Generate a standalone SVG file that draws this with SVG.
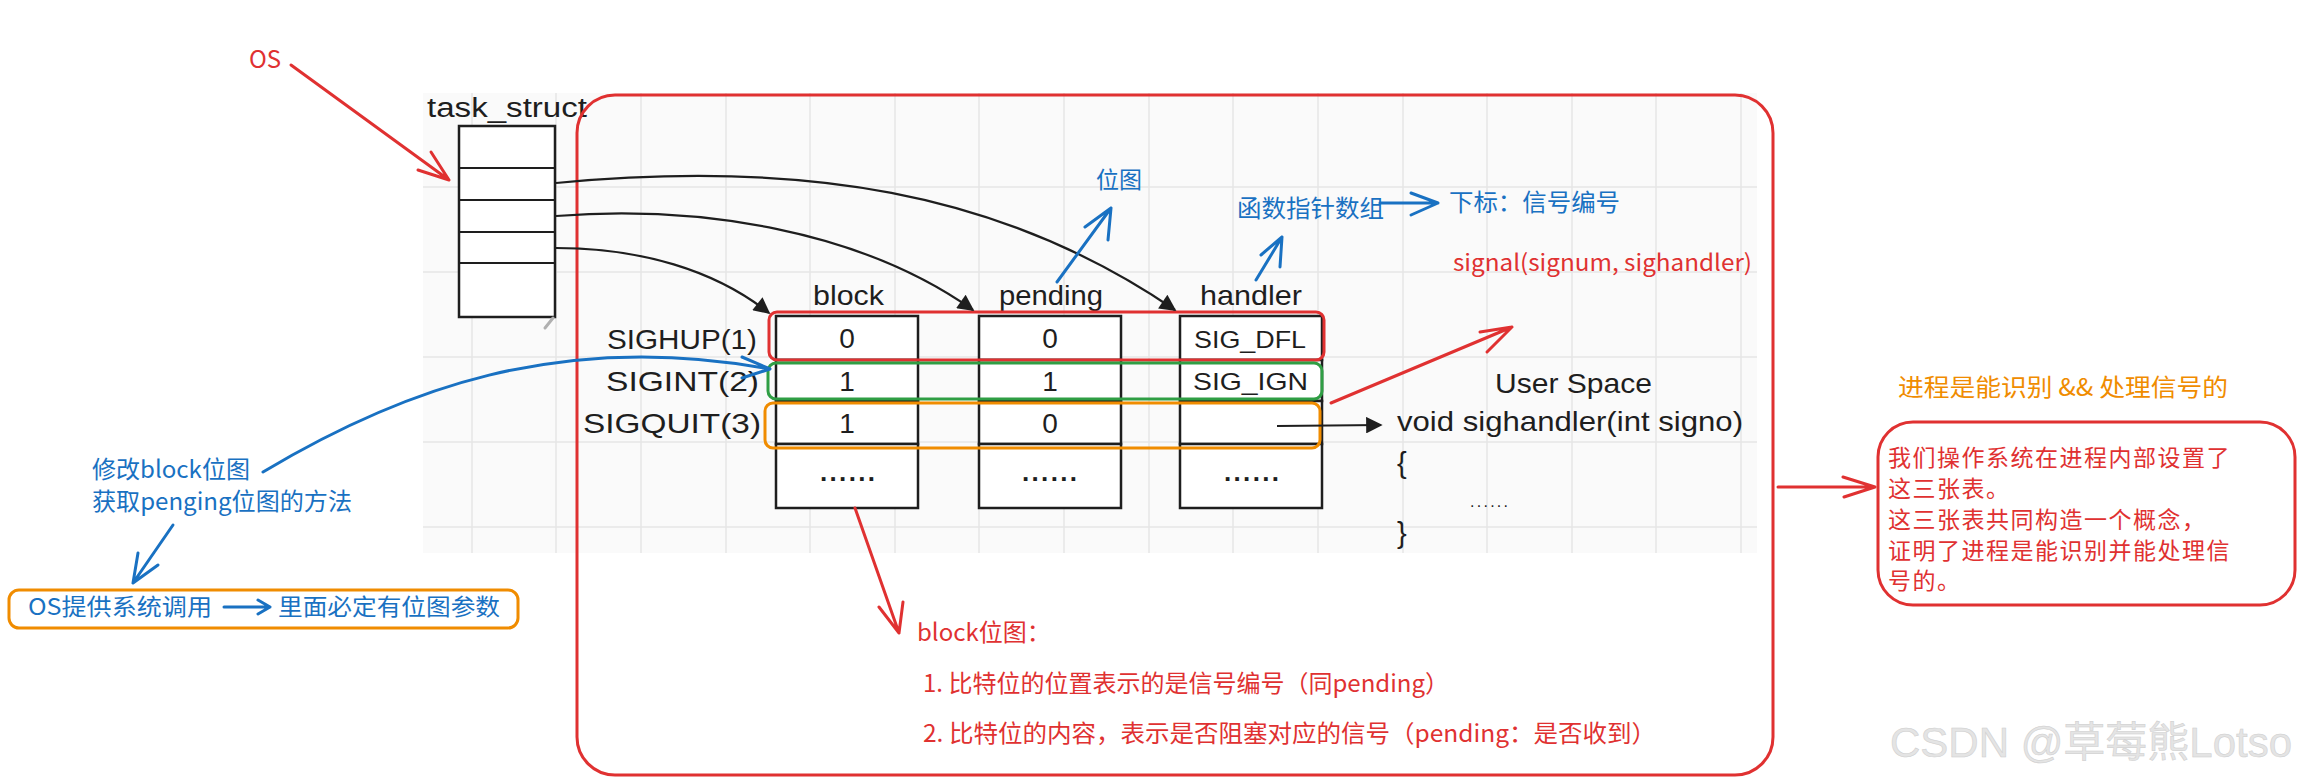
<svg xmlns="http://www.w3.org/2000/svg" width="2309" height="784" viewBox="0 0 2309 784">
<style>
  .wb { font-family: "Liberation Sans", "DejaVu Sans", sans-serif; fill: #1e1e1e; }
  .hw { font-family: "Noto Sans CJK SC", "Noto Sans", sans-serif; }
  .red { fill: #e03131; }
  .blue { fill: #1971c2; }
  .orange { fill: #f08c00; }
  .cell { fill: #ffffff; stroke: #1e1e1e; stroke-width: 2.5; }
  .grid { stroke: #e6e6e6; stroke-width: 1.5; }
  .rs { stroke: #e03131; fill: none; stroke-width: 3; stroke-linecap: round; stroke-linejoin: round; }
  .bs { stroke: #1971c2; fill: none; stroke-width: 3; stroke-linecap: round; stroke-linejoin: round; }
  .ks { stroke: #1e1e1e; fill: none; stroke-width: 2.2; }
  .hl { fill: none; stroke-width: 3; }
</style>
<defs>
  <marker id="ah" viewBox="0 0 10 10" refX="9" refY="5" markerWidth="9" markerHeight="7.5" orient="auto" markerUnits="strokeWidth">
    <path d="M0,0 L10,5 L0,10 Z" fill="#1e1e1e"/>
  </marker>
</defs>

<rect width="2309" height="784" fill="#ffffff"/>

<!-- pasted whiteboard screenshot background -->
<g id="whiteboard-bg">
  <rect x="423" y="93" width="1334" height="460" fill="#fafafa"/>
  <g class="grid">
    <line x1="472" y1="93" x2="472" y2="553"/>
    <line x1="556" y1="93" x2="556" y2="553"/>
    <line x1="641" y1="93" x2="641" y2="553"/>
    <line x1="726" y1="93" x2="726" y2="553"/>
    <line x1="810" y1="93" x2="810" y2="553"/>
    <line x1="895" y1="93" x2="895" y2="553"/>
    <line x1="979" y1="93" x2="979" y2="553"/>
    <line x1="1064" y1="93" x2="1064" y2="553"/>
    <line x1="1149" y1="93" x2="1149" y2="553"/>
    <line x1="1233" y1="93" x2="1233" y2="553"/>
    <line x1="1318" y1="93" x2="1318" y2="553"/>
    <line x1="1403" y1="93" x2="1403" y2="553"/>
    <line x1="1487" y1="93" x2="1487" y2="553"/>
    <line x1="1572" y1="93" x2="1572" y2="553"/>
    <line x1="1656" y1="93" x2="1656" y2="553"/>
    <line x1="1741" y1="93" x2="1741" y2="553"/>
    <line x1="423" y1="187" x2="1757" y2="187"/>
    <line x1="423" y1="272" x2="1757" y2="272"/>
    <line x1="423" y1="357" x2="1757" y2="357"/>
    <line x1="423" y1="442" x2="1757" y2="442"/>
    <line x1="423" y1="527" x2="1757" y2="527"/>
  </g>
</g>

<!-- task_struct -->
<g id="task_struct">
  <text class="wb" x="427" y="117" font-size="27" textLength="160" lengthAdjust="spacingAndGlyphs">task_struct</text>
  <rect class="cell" x="459" y="126" width="96" height="191"/>
  <line class="ks" stroke-width="2.5" x1="459" y1="168" x2="555" y2="168"/>
  <line class="ks" stroke-width="2.5" x1="459" y1="200" x2="555" y2="200"/>
  <line class="ks" stroke-width="2.5" x1="459" y1="232" x2="555" y2="232"/>
  <line class="ks" stroke-width="2.5" x1="459" y1="263" x2="555" y2="263"/>
  <line x1="545" y1="328" x2="553" y2="318" stroke="#b0b0b0" stroke-width="3" stroke-linecap="round"/>
</g>

<!-- signal tables -->
<g id="row-labels">
  <text class="wb" x="607" y="349" font-size="28" textLength="150" lengthAdjust="spacingAndGlyphs">SIGHUP(1)</text>
  <text class="wb" x="606" y="391" font-size="28" textLength="153" lengthAdjust="spacingAndGlyphs">SIGINT(2)</text>
  <text class="wb" x="583" y="433" font-size="28" textLength="178" lengthAdjust="spacingAndGlyphs">SIGQUIT(3)</text>
</g>

<g id="block-table">
  <text class="wb" x="813" y="305" font-size="28" textLength="71" lengthAdjust="spacingAndGlyphs">block</text>
  <rect class="cell" x="776" y="316" width="142" height="44"/>
  <rect class="cell" x="776" y="360" width="142" height="41"/>
  <rect class="cell" x="776" y="401" width="142" height="43"/>
  <rect class="cell" x="776" y="444" width="142" height="64"/>
  <text class="wb" x="847" y="348" font-size="28" text-anchor="middle">0</text>
  <text class="wb" x="847" y="391" font-size="28" text-anchor="middle">1</text>
  <text class="wb" x="847" y="433" font-size="28" text-anchor="middle">1</text>
  <text class="wb" x="820" y="481" font-size="26" font-weight="bold" textLength="55" lengthAdjust="spacing">......</text>
</g>

<g id="pending-table">
  <text class="wb" x="999" y="305" font-size="28" textLength="104" lengthAdjust="spacingAndGlyphs">pending</text>
  <rect class="cell" x="979" y="316" width="142" height="44"/>
  <rect class="cell" x="979" y="360" width="142" height="41"/>
  <rect class="cell" x="979" y="401" width="142" height="43"/>
  <rect class="cell" x="979" y="444" width="142" height="64"/>
  <text class="wb" x="1050" y="348" font-size="28" text-anchor="middle">0</text>
  <text class="wb" x="1050" y="391" font-size="28" text-anchor="middle">1</text>
  <text class="wb" x="1050" y="433" font-size="28" text-anchor="middle">0</text>
  <text class="wb" x="1022" y="481" font-size="26" font-weight="bold" textLength="55" lengthAdjust="spacing">......</text>
</g>

<g id="handler-table">
  <text class="wb" x="1200" y="305" font-size="28" textLength="102" lengthAdjust="spacingAndGlyphs">handler</text>
  <rect class="cell" x="1180" y="316" width="142" height="44"/>
  <rect class="cell" x="1180" y="360" width="142" height="41"/>
  <rect class="cell" x="1180" y="401" width="142" height="43"/>
  <rect class="cell" x="1180" y="444" width="142" height="64"/>
  <text class="wb" x="1194" y="348" font-size="24" textLength="112" lengthAdjust="spacingAndGlyphs">SIG_DFL</text>
  <text class="wb" x="1193" y="390" font-size="24" textLength="115" lengthAdjust="spacingAndGlyphs">SIG_IGN</text>
  <text class="wb" x="1224" y="481" font-size="26" font-weight="bold" textLength="55" lengthAdjust="spacing">......</text>
</g>

<g id="row-highlights">
  <rect class="hl" x="769" y="312" width="555" height="48" rx="8" stroke="#e03131"/>
  <rect class="hl" x="768" y="363" width="554" height="36" rx="8" stroke="#2f9e44"/>
  <rect class="hl" x="765" y="403" width="555" height="45" rx="8" stroke="#f08c00"/>
</g>

<g id="user-space">
  <text class="wb" x="1495" y="393" font-size="28" textLength="157" lengthAdjust="spacingAndGlyphs">User Space</text>
  <text class="wb" x="1397" y="431" font-size="28" textLength="346" lengthAdjust="spacingAndGlyphs">void sighandler(int signo)</text>
  <text class="wb" x="1397" y="473" font-size="29">{</text>
  <text class="wb" x="1470" y="507" font-size="16" textLength="38" lengthAdjust="spacing">......</text>
  <text class="wb" x="1397" y="543" font-size="29">}</text>
</g>

<!-- outer red frame -->
<g id="kernel-frame">
  <rect x="577" y="95" width="1196" height="680" rx="38" fill="none" stroke="#e03131" stroke-width="3"/>
</g>

<!-- annotations -->
<g id="os-label">
  <text class="hw red" x="249" y="68" font-size="24">OS</text>
</g>
<g id="bitmap-label">
  <text class="hw blue" x="1096" y="188" font-size="23">位图</text>
</g>
<g id="func-array-label">
  <text class="hw blue" x="1237" y="217" font-size="24" textLength="147" lengthAdjust="spacingAndGlyphs">函数指针数组</text>
</g>
<g id="index-label">
  <text class="hw blue" x="1449" y="211" font-size="24" textLength="171" lengthAdjust="spacingAndGlyphs">下标：信号编号</text>
</g>
<g id="signal-call">
  <text class="hw red" x="1453" y="271" font-size="23" textLength="299" lengthAdjust="spacingAndGlyphs">signal(signum, sighandler)</text>
</g>
<g id="block-note">
  <text class="hw red" x="917" y="641" font-size="24">block位图：</text>
  <text class="hw red" x="923" y="692" font-size="24" textLength="526" lengthAdjust="spacingAndGlyphs">1. 比特位的位置表示的是信号编号（同pending）</text>
  <text class="hw red" x="923" y="742" font-size="24" textLength="733" lengthAdjust="spacingAndGlyphs">2. 比特位的内容，表示是否阻塞对应的信号（pending：是否收到）</text>
</g>
<g id="modify-note">
  <text class="hw blue" x="92" y="478" font-size="24" textLength="158" lengthAdjust="spacingAndGlyphs">修改block位图</text>
  <text class="hw blue" x="92" y="510" font-size="24" textLength="260" lengthAdjust="spacingAndGlyphs">获取penging位图的方法</text>
</g>
<g id="syscall-box">
  <rect x="9" y="590" width="509" height="38" rx="10" fill="none" stroke="#f08c00" stroke-width="3"/>
  <text class="hw blue" x="28" y="615" font-size="23" textLength="184" lengthAdjust="spacingAndGlyphs">OS提供系统调用</text>
  <text class="hw blue" x="278" y="615" font-size="23" textLength="222" lengthAdjust="spacingAndGlyphs">里面必定有位图参数</text>
</g>
<g id="process-title">
  <text class="hw orange" x="1898" y="396" font-size="24" textLength="330" lengthAdjust="spacingAndGlyphs">进程是能识别 &amp;&amp; 处理信号的</text>
</g>
<g id="conclusion-box">
  <rect x="1878" y="422" width="417" height="183" rx="35" fill="none" stroke="#e03131" stroke-width="3"/>
  <g class="hw red" font-size="23" letter-spacing="1.5">
    <text x="1888" y="466">我们操作系统在进程内部设置了</text>
    <text x="1888" y="497">这三张表。</text>
    <text x="1888" y="528">这三张表共同构造一个概念，</text>
    <text x="1888" y="559">证明了进程是能识别并能处理信</text>
    <text x="1888" y="589">号的。</text>
  </g>
</g>
<g id="watermark">
  <text x="1890" y="757" font-family="Liberation Sans, Noto Sans CJK SC, sans-serif" font-size="42" fill="#e4e4e4" stroke="#cdcdcd" stroke-width="0.5">CSDN @草莓熊Lotso</text>
</g>

<!-- connectors -->
<g id="connectors">
  <path class="ks" d="M556,183 C800,160 1000,190 1175,310" marker-end="url(#ah)"/>
  <path class="ks" d="M556,216 C700,205 860,230 973,310" marker-end="url(#ah)"/>
  <path class="ks" d="M556,248 C640,248 715,270 769,313" marker-end="url(#ah)"/>
  <path class="ks" d="M1277,426 L1381,425" marker-end="url(#ah)"/>

  <path class="rs" d="M291,65 L449,180 M431,152 L449,180 L418,170"/>
  <path class="rs" d="M1331,403 L1512,327 M1480,332 L1512,327 L1487,352"/>
  <path class="rs" d="M855,508 L899,633 M879,607 L899,633 L903,602"/>
  <path class="rs" d="M1778,487 L1875,487 M1843,477 L1875,487 L1844,497"/>

  <path class="bs" d="M1057,282 L1111,208 M1085,227 L1111,208 L1108,240"/>
  <path class="bs" d="M1256,280 L1282,237 M1261,255 L1282,237 L1280,267"/>
  <path class="bs" d="M1380,203 L1438,203 M1411,193 L1438,203 L1411,215"/>
  <path class="bs" d="M263,472 C400,390 560,330 770,369 M742,357 L770,369 L742,378"/>
  <path class="bs" d="M173,525 L133,583 M138,553 L133,583 L158,565"/>
  <path class="bs" d="M224,607 L270,607 M258,600 L270,607 L258,614"/>
</g>
</svg>
